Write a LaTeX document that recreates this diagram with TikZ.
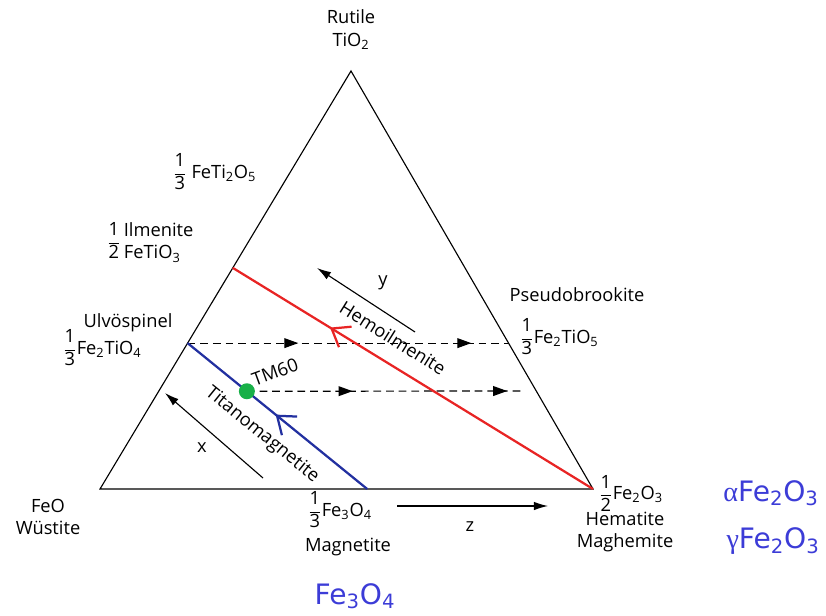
\documentclass[tikz,border=0pt]{standalone}
\usepackage{amsmath}
\usepackage{fontspec}
\setmainfont{Open Sans}
\newfontfamily\bluefont{DejaVu Sans}
\newfontfamily\greekfont{Liberation Serif}
\usepackage{tikz}
\usetikzlibrary{positioning, arrows.meta, calc, decorations.markings}
\definecolor{hemred}{RGB}{232, 36, 36}
\definecolor{tmblue}{RGB}{34, 48, 160}
\definecolor{tmgreen}{RGB}{24, 176, 72}
\definecolor{oxblue}{RGB}{60, 60, 215}
\newcommand{\fr}[2]{$\dfrac{\mbox{#1}}{\mbox{#2}}$}

\begin{document}
\begin{tikzpicture}[x=0.025cm, y=-0.025cm,
    font=\fontsize{13}{16}\selectfont,
    sideline/.style={line width=0.8pt},
    ssline/.style={line width=1.6pt, postaction={decorate}},
    oxpath/.style={line width=0.85pt, dash pattern=on 5.5pt off 3.5pt, postaction={decorate}},
    axarrow/.style={line width=0.8pt, -{Latex[length=10pt, width=6pt]}},
    oxide/.style={oxblue, font=\bluefont\fontsize{20}{23}\selectfont}]
  \useasboundingbox (0,0) rectangle (826,616);
  % Corners and points on the sides
  \coordinate (rut) at (351,71);
  \coordinate (feo) at (100,489);
  \coordinate (hem) at (593,489);
  \coordinate (ilm) at ($(feo)!0.529!(rut)$);
  \coordinate (ulv) at ($(feo)!0.349!(rut)$);
  \coordinate (mag) at ($(feo)!0.542!(hem)$);
  \coordinate (psb) at ($(hem)!0.349!(rut)$);
  \coordinate (tm) at ($(ulv)!0.33!(mag)$);
  \coordinate (tmend) at (525,391);
  % Triangle
  \draw[sideline] (feo) -- (rut) -- (hem) -- cycle;
  % Oxidation paths
  \draw[oxpath, decoration={markings,
      mark=at position 0.345 with {\arrow{Triangle[length=10pt, width=7pt]}},
      mark=at position 0.884 with {\arrow{Triangle[length=10pt, width=7pt]}}}]
    (ulv) -- (psb);
  \draw[oxpath, decoration={markings,
      mark=at position 0.38 with {\arrow{Triangle[length=10pt, width=7pt]}},
      mark=at position 0.936 with {\arrow{Triangle[length=10pt, width=7pt]}}}]
    (tm) -- (tmend);
  % Solid solution series
  \draw[ssline, hemred, decoration={markings, mark=at position 0.27 with
      {\arrowreversed{Straight Barb[length=4mm, width=6mm]}}}] (ilm) -- (hem);
  \draw[ssline, tmblue, decoration={markings, mark=at position 0.49 with
      {\arrowreversed{Straight Barb[length=4mm, width=6mm]}}}] (ulv) -- (mag);
  \node[circle, fill=tmgreen, inner sep=0pt, minimum size=4mm] (tmdot) at (tm) {};
  \node[rotate=-32] (hemlab) at (393,338) {Hemoilmenite};
  \node[rotate=-39] (tmlab) at (262,435) {Titanomagnetite};
  \node[rotate=20] (tm60) at (275,372) {TM60};
  % Composition axes
  \coordinate (xs) at (263,478); \coordinate (xe) at (165,393);
  \coordinate (ys) at (415,332); \coordinate (ye) at (317,268);
  \coordinate (zs) at (397,506); \coordinate (ze) at (548,506);
  \draw[axarrow] (xs) -- (xe);
  \draw[axarrow] (ys) -- (ye);
  \draw[axarrow] (zs) -- (ze);
  \node (xlab) at (202,448) {x};
  \node (ylab) at (383,283) {y};
  \node (zlab) at (470,527) {z};
  % End members
  \node[align=center] (rutlab) at (351,30) {Rutile\\TiO\textsubscript{2}};
  \node[anchor=west] (ftilab) at (168,172) {\fr{1}{3} FeTi\textsubscript{2}O\textsubscript{5}};
  \node[anchor=west] (ilmlab) at (102,243)
    {\fr{1}{2}\,\begin{tabular}{@{}l@{}}Ilmenite\\FeTiO\textsubscript{3}\end{tabular}};
  \node (ulvlab) at (128,323) {Ulvöspinel};
  \node[anchor=west] (ulvfr) at (58,348) {\fr{1}{3}Fe\textsubscript{2}TiO\textsubscript{4}};
  \node[align=center] (feolab) at (48,517) {FeO\\Wüstite};
  \node[anchor=west] (magfr) at (303,510) {\fr{1}{3}Fe\textsubscript{3}O\textsubscript{4}};
  \node (maglab) at (348,547) {Magnetite};
  \node[anchor=west] (hemfr) at (594,493) {\fr{1}{2}Fe\textsubscript{2}O\textsubscript{3}};
  \node[align=center] (hemlab2) at (625,532) {Hematite\\Maghemite};
  \node (psblab) at (577,295) {Pseudobrookite};
  \node[anchor=west] (psbfr) at (515,337) {\fr{1}{3}Fe\textsubscript{2}TiO\textsubscript{5}};
  % Oxides in blue
  \node[oxide] (alpha) at (771,493) {{\greekfont α}Fe\textsubscript{2}O\textsubscript{3}};
  \node[oxide] (gamma) at (773,541) {{\greekfont γ}Fe\textsubscript{2}O\textsubscript{3}};
  \node[oxide] (fe3o4) at (355,596) {Fe\textsubscript{3}O\textsubscript{4}};
\end{tikzpicture}
\end{document}
